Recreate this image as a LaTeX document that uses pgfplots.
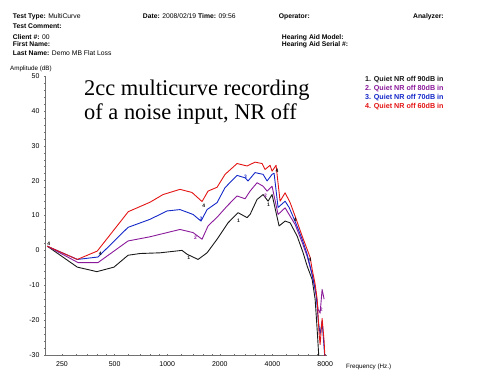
\documentclass[border=0pt]{standalone}
\usepackage{pgfplots}
\pgfplotsset{compat=1.18}
\usepackage{fontspec}
\setmainfont{Liberation Sans}
\newfontfamily\serifont{Liberation Serif}
\definecolor{cblack}{HTML}{1A1A1A}
\definecolor{cpurple}{HTML}{8A1A9A}
\definecolor{cblue}{HTML}{1428C8}
\definecolor{cred}{HTML}{E31414}
\definecolor{axgray}{HTML}{707070}
\newcommand{\hf}{\fontsize{6.8}{8}\selectfont}
\begin{document}
\begin{tikzpicture}
\path[use as bounding box] (0bp,0bp) rectangle (479bp,373bp);
% header
\node[anchor=base west,inner sep=0] at (12.7bp,354.5bp) {\hf\bfseries Test Type: \mdseries MultiCurve};
\node[anchor=base west,inner sep=0] at (12.7bp,344.8bp) {\hf\bfseries Test Comment:};
\node[anchor=base west,inner sep=0] at (12.7bp,333.8bp) {\hf\bfseries Client \#: \mdseries 00};
\node[anchor=base west,inner sep=0] at (12.7bp,326.2bp) {\hf\bfseries First Name:};
\node[anchor=base west,inner sep=0] at (12.7bp,317.8bp) {\hf\bfseries Last Name: \mdseries Demo MB Flat Loss};
\node[anchor=base west,inner sep=0] at (142.7bp,354.5bp) {\hf\bfseries Date: \mdseries 2008/02/19 \bfseries Time: \mdseries 09:56};
\node[anchor=base west,inner sep=0] at (278.7bp,354.5bp) {\hf\bfseries Operator:};
\node[anchor=base west,inner sep=0] at (413bp,354.5bp) {\hf\bfseries Analyzer:};
\node[anchor=base west,inner sep=0] at (281.7bp,333.8bp) {\hf\bfseries Hearing Aid Model:};
\node[anchor=base west,inner sep=0] at (281.7bp,326.2bp) {\hf\bfseries Hearing Aid Serial \#:};
\node[anchor=base west,inner sep=0] at (10bp,302.5bp) {\fontsize{6.3}{7}\selectfont Amplitude (dB)};
\node[anchor=base west,inner sep=0] at (346bp,4.5bp) {\fontsize{6.3}{7}\selectfont Frequency (Hz.)};
% title
\node[anchor=base west,inner sep=0] at (84bp,277.3bp) {\serifont\fontsize{22.5}{25}\selectfont 2cc multicurve recording};
\node[anchor=base west,inner sep=0] at (84bp,253bp) {\serifont\fontsize{22.5}{25}\selectfont of a noise input, NR off};
% legend
\node[anchor=base west,inner sep=0,text=cblack] at (365bp,291.4bp) {\fontsize{7.2}{8}\selectfont\bfseries 1. Quiet NR off 90dB in};
\node[anchor=base west,inner sep=0,text=cpurple] at (365bp,282.1bp) {\fontsize{7.2}{8}\selectfont\bfseries 2. Quiet NR off 80dB in};
\node[anchor=base west,inner sep=0,text=cblue] at (365bp,273.1bp) {\fontsize{7.2}{8}\selectfont\bfseries 3. Quiet NR off 70dB in};
\node[anchor=base west,inner sep=0,text=cred] at (365bp,264.1bp) {\fontsize{7.2}{8}\selectfont\bfseries 4. Quiet NR off 60dB in};
\begin{axis}[
  at={(45bp,18bp)}, anchor=south west,
  scale only axis, width=282bp, height=279bp,
  xmode=log,
  xmin=200, xmax=8200, ymin=-30, ymax=50,
  axis x line=bottom, axis y line=left,
  axis line style={-, draw=axgray, line width=0.5pt},
  xtick={250,500,1000,2000,4000,8000},
  xticklabels={250,500,1000,2000,4000,8000},
  minor xtick={300,350,400,450,600,700,800,900,1200,1400,1600,1800,2400,2800,3200,3600,4800,5600,6400,7200},
  ytick={-30,-20,-10,0,10,20,30,40,50},
  minor y tick num=4,
  tick style={draw=axgray, line width=0.4pt},
  major tick length=2bp, minor tick length=1.5bp,
  tick label style={font=\fontsize{7}{8}\selectfont, text=black},
  xticklabel style={yshift=-2.5bp},
  yticklabel style={xshift=-1bp},
  /pgf/number format/assume math mode=true,
  clip=true,
  every axis plot/.append style={line width=0.9pt, line join=round},
]
\addplot[cblack] coordinates {(206,1.2) (306,-4.8) (396,-6.1) (496,-4.8) (597,-1.4) (699,-0.9) (909,-0.7) (1215,0.0) (1298,-1.1) (1501,-2.6) (1690,-0.7) (1928,3.2) (2228,7.9) (2542,10.8) (2862,9.4) (2978,10.3) (3265,14.6) (3534,16.0) (3774,14.1) (3978,16.0) (4362,7.0) (4723,8.4) (5045,7.9) (5533,4.1) (5988,-0.7) (6313,-4.5) (6742,-8.3) (7014,-14.0) (7201,-22.6) (7393,-32)};
\addplot[cpurple] coordinates {(206,1.2) (309,-3.5) (402,-3.5) (597,2.7) (797,3.9) (909,4.6) (1183,6.0) (1405,5.1) (1582,3.2) (1712,7.0) (1953,9.8) (2199,12.7) (2509,15.6) (2788,14.8) (2978,17.0) (3265,19.4) (3534,18.4) (3725,17.0) (3978,18.4) (4305,10.3) (4723,12.2) (5045,9.8) (5389,7.4) (5911,2.3) (6313,-1.7) (6742,-6.9) (7107,-12.6) (7296,-16.9) (7490,-18) (7690,-11.2) (7895,-14.0)};
\addplot[cblue] coordinates {(206,1.2) (306,-2.6) (402,-1.9) (597,6.6) (797,8.9) (997,11.3) (1183,11.7) (1405,10.3) (1561,8.4) (1690,11.7) (1928,13.7) (2142,18.0) (2509,21.5) (2788,20.8) (2899,19.9) (3180,22.3) (3534,21.8) (3725,19.9) (3978,21.8) (4085,22.1) (4305,12.3) (4723,14.1) (4980,12.3) (5389,8.3) (5911,3.2) (6313,-1.1) (6742,-6.9) (7107,-12.6) (7296,-19.8) (7490,-24) (7690,-20.3) (8000,-32)};
\addplot[cred] coordinates {(206,1.2) (306,-2.6) (398,-0.2) (599,11.1) (797,13.8) (946,16.0) (1183,17.5) (1386,16.6) (1582,14.0) (1712,17.0) (1928,18.1) (2142,21.8) (2509,24.9) (2862,24.2) (3180,25.3) (3487,24.9) (3627,23.2) (3875,24.4) (3978,22.7) (4193,24.4) (4420,14.1) (4723,16.5) (5045,13.7) (5389,9.8) (5911,4.1) (6313,0.3) (6567,-2.0) (6742,-5.4) (7014,-9.7) (7201,-14) (7296,-19) (7393,-24) (7490,-27) (7690,-19.5) (7895,-26) (8000,-32)};
% curve number tags
\addplot[only marks, mark=none, nodes near coords={1}, nodes near coords align=center,
  every node near coord/.append style={font=\fontsize{5}{5}\selectfont\bfseries, text=cblack, inner sep=0}]
  coordinates {(1330,-2.2) (2560,8.6) (3800,13.2)};
\addplot[only marks, mark=none, nodes near coords={2}, nodes near coords align=center,
  every node near coord/.append style={font=\fontsize{5}{5}\selectfont\bfseries, text=cpurple, inner sep=0}]
  coordinates {(1450,3.6) (3650,15.8) (7600,-17)};
\addplot[only marks, mark=none, nodes near coords={3}, nodes near coords align=center,
  every node near coord/.append style={font=\fontsize{5}{5}\selectfont\bfseries, text=cblue, inner sep=0}]
  coordinates {(1560,9.2) (2800,21.0)};
\addplot[only marks, mark=none, nodes near coords={4}, nodes near coords align=center,
  every node near coord/.append style={font=\fontsize{5}{5}\selectfont\bfseries, text=black, inner sep=0}]
  coordinates {(210,2.0) (414,-0.9) (1620,12.9) (4250,22.8) (5390,8.9) (6560,-2.8)};
\end{axis}
\end{tikzpicture}
\end{document}
